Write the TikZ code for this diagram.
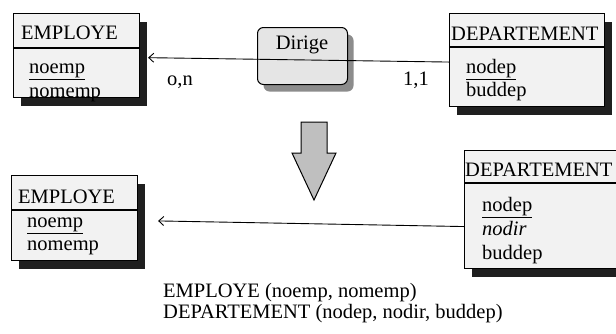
\documentclass[tikz,border=0pt]{standalone}
\usepackage{fontspec}
\setmainfont{Liberation Serif}
\usetikzlibrary{arrows.meta, shadows}

\begin{document}
\begin{tikzpicture}[
    x=1pt, y=-1pt,
    every node/.style={font=\fontsize{20.5}{24}\selectfont},
    entity/.style={draw, line width=1.1pt, fill=black!5, anchor=north west, inner sep=0pt,
        drop shadow={shadow xshift=7pt, shadow yshift=-8pt, fill=black!88, opacity=1}},
    sep/.style={line width=1.1pt},
    assoc/.style={draw, line width=1pt, fill=black!10, rounded corners=6pt, anchor=north west, inner sep=0pt,
        drop shadow={shadow xshift=6pt, shadow yshift=-7pt, fill=black!45, opacity=1}},
    txt/.style={anchor=base west, inner sep=0pt},
    link/.style={line width=0.9pt, -{Straight Barb[length=5pt,width=9pt]}},
    bigarrow/.style={draw, line width=1pt, fill=black!25}
]

\clip (0,0) rectangle (616,333);

% =========================
% CONCEPTUAL SCHEMA
% =========================
\node[entity, minimum width=126pt, minimum height=84pt] (emp1) at (13,13) {};
\draw[sep] ([yshift=-35pt]emp1.north west) -- ([yshift=-35pt]emp1.north east);
\node[txt] (emp1t) at (21,39) {EMPLOYE};
\node[txt] (emp1a) at (29,73) {\underline{noemp}};
\node[txt] (emp1b) at (29,97) {nomemp};

\node[entity, minimum width=155pt, minimum height=93pt] (dep1) at (449,13) {};
\draw[sep] ([yshift=-34pt]dep1.north west) -- ([yshift=-34pt]dep1.north east);
\node[txt] (dep1t) at (451,40) {DEPARTEMENT};
\node[txt] (dep1a) at (466,73) {\underline{nodep}};
\node[txt] (dep1b) at (466,96) {buddep};

\node[assoc, minimum width=90pt, minimum height=57pt] (dir) at (257,27) {};
\node[anchor=base, inner sep=0pt] (dirt) at (302,49) {Dirige};

\draw[link, shorten >=8pt] ([yshift=-2pt]dep1.west) -- ([yshift=-2pt]emp1.east);
\node[txt] (card1) at (167,85) {o,n};
\node[txt] (card2) at (403,85) {1,1};

% =========================
% ARROW: translation
% =========================
\draw[bigarrow] (301,122) -- (327,122) -- (327,153) -- (336,153)
    -- (314,200) -- (292,153) -- (301,153) -- cycle;

% =========================
% RELATIONAL SCHEMA
% =========================
\node[entity, minimum width=126pt, minimum height=85pt] (emp2) at (11,175) {};
\draw[sep] ([yshift=-35pt]emp2.north west) -- ([yshift=-35pt]emp2.north east);
\node[txt] (emp2t) at (18,203) {EMPLOYE};
\node[txt] (emp2a) at (27,227) {\underline{noemp}};
\node[txt] (emp2b) at (27,250) {nomemp};

\node[entity, minimum width=156pt, minimum height=118pt] (dep2) at (464,150) {};
\draw[sep] ([yshift=-33pt]dep2.north west) -- ([yshift=-33pt]dep2.north east);
\node[txt] (dep2t) at (465,176) {DEPARTEMENT};
\node[txt] (dep2a) at (482,211) {\underline{nodep}};
\node[txt] (dep2b) at (482,235) {\textit{nodir}};
\node[txt] (dep2c) at (482,259) {buddep};

\draw[link, shorten >=20pt] ([yshift=-17pt]dep2.west) -- ([yshift=-2.5pt]emp2.east);

\node[txt] (rel1) at (163,297) {EMPLOYE (noemp, nomemp)};
\node[txt] (rel2) at (163,318) {DEPARTEMENT (nodep, nodir, buddep)};
\end{tikzpicture}
\end{document}
